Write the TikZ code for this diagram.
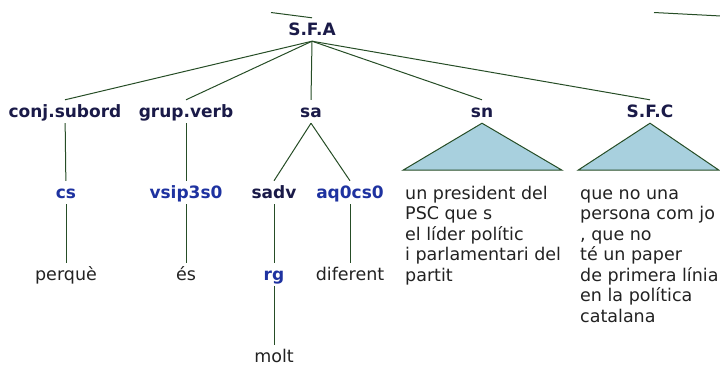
\documentclass[tikz,border=0pt]{standalone}
\usepackage{fontspec}
\setmainfont{DejaVu Sans}
\usetikzlibrary{positioning}
\definecolor{catNavy}{HTML}{1A1A48}
\definecolor{tagBlue}{HTML}{1E32A0}
\definecolor{edgeG}{HTML}{264D26}
\definecolor{triFill}{HTML}{A8D0DE}
\definecolor{word}{HTML}{222222}

\begin{document}
\begin{tikzpicture}[
  x=1pt, y=-1pt,
  every node/.style={anchor=base, inner xsep=2pt, inner ysep=3pt,
                     text height=14pt, text depth=3pt},
  cat/.style={font=\fontsize{17}{20}\selectfont\bfseries, text=catNavy},
  tag/.style={font=\fontsize{17}{20}\selectfont\bfseries, text=tagBlue},
  leaf/.style={font=\fontsize{17.5}{20.5}\selectfont, text=word},
  chunk/.style={leaf, anchor=north west, align=left, inner sep=0pt,
                text height=, text depth=},
  edge/.style={draw=edgeG, line width=1pt},
  roof/.style={draw=edgeG, line width=1pt, fill=triFill}
]
\useasboundingbox (0,0) rectangle (720,365);

\node[cat] (sfa)  at (312,35)   {S.F.A};
\node[cat] (conj) at (65,117)   {conj.subord};
\node[cat] (grup) at (186,117)  {grup.verb};
\node[cat] (sa)   at (311,117)  {sa};
\node[cat] (sn)   at (482,117)  {sn};
\node[cat] (sfc)  at (650,117)  {S.F.C};

\node[tag] (cs)   at (66,198)   {cs};
\node[tag] (vsip) at (186,198)  {vsip3s0};
\node[cat] (sadv) at (274,198)  {sadv};
\node[tag] (aq)   at (350,198)  {aq0cs0};

\node[leaf] (perque) at (66,280)  {perquè};
\node[leaf] (es)     at (186,280) {és};
\node[tag]  (rg)     at (274,280) {rg};
\node[leaf] (dif)    at (350,280) {diferent};
\node[leaf] (molt)   at (274,362) {molt};

\node[chunk] (snw)  at (405,185) {\rule{0pt}{14pt}un president del\\PSC que s\\el líder polític\\i parlamentari del\\partit};
\node[chunk] (sfcw) at (580,185) {\rule{0pt}{14pt}que no una\\persona com jo\\, que no\\té un paper\\de primera línia\\en la política\\catalana};

\coordinate (up)  at (271,12.5);
\coordinate (upR) at (654,12.5);
\coordinate (outR) at (721,16);

\draw[edge] (up) -- (sfa.north);
\draw[edge] (upR) -- (outR);
\foreach \kid in {conj,grup,sa,sn,sfc}
  \draw[edge] (sfa.south) -- (\kid.north);
\draw[edge] (conj) -- (cs);
\draw[edge] (grup) -- (vsip);
\draw[edge] (sa.south) -- (sadv.north);
\draw[edge] (sa.south) -- (aq.north);
\draw[edge] (cs) -- (perque);
\draw[edge] (vsip) -- (es);
\draw[edge] (sadv) -- (rg);
\draw[edge] (aq) -- (dif);
\draw[edge] (rg) -- (molt);

\draw[roof] (sn.south) -- ++(-79,47) -- ++(159,0) -- cycle;
\draw[roof] (sfc.south) -- ++(-72,47) -- ++(141,0) -- cycle;
\end{tikzpicture}
\end{document}
